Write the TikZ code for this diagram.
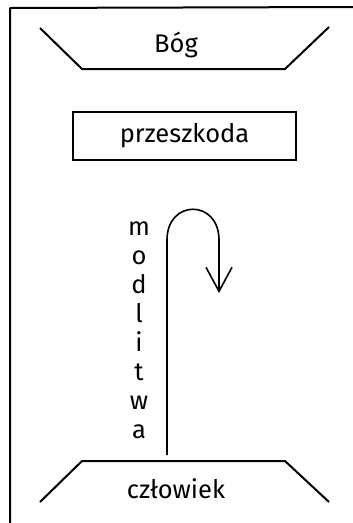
\documentclass[tikz,border=0pt]{standalone}
\usepackage{fontspec}
\setmainfont{Fira Sans}
\usetikzlibrary{arrows.meta}
\tikzset{
  sketch/.style={line width=2pt, line join=round},
  label/.style={font=\fontsize{25.5}{29}\selectfont, inner sep=0pt},
}
\begin{document}
\begin{tikzpicture}[x=1pt,y=-1pt]
\useasboundingbox (0,0) rectangle (353,523);
% frame
\draw [sketch] (10,523) -- (10,8) -- (353,7) ;
% top: God
\node [label] (bog) at (176,45) {Bóg};
\draw [sketch] (40,28) -- (82,69) -- (285,69) -- (329,27) ;
% obstacle
\node [label, draw, line width=2pt, minimum width=223pt, minimum height=48pt] (przeszkoda) at (184.5,136) {przeszkoda};
% bottom: man
\node [label] (czlowiek) at (176,489) {człowiek};
\draw [sketch] (40,502) -- (82,461) -- (285,461) -- (329,502) ;
% prayer going up and falling back
\coordinate (start) at (167,455);
\coordinate (end) at (219,293);
\draw [line width=1.6pt, -{Straight Barb[length=24pt,width=26pt,line width=1.6pt]}]
  (start) -- (167,240) .. controls (167,199) and (219,199) .. (219,240) -- (end) ;
\node [label, align=center] (modlitwa) at (139,330) {m\\o\\d\\l\\i\\t\\w\\a};
\end{tikzpicture}
\end{document}
